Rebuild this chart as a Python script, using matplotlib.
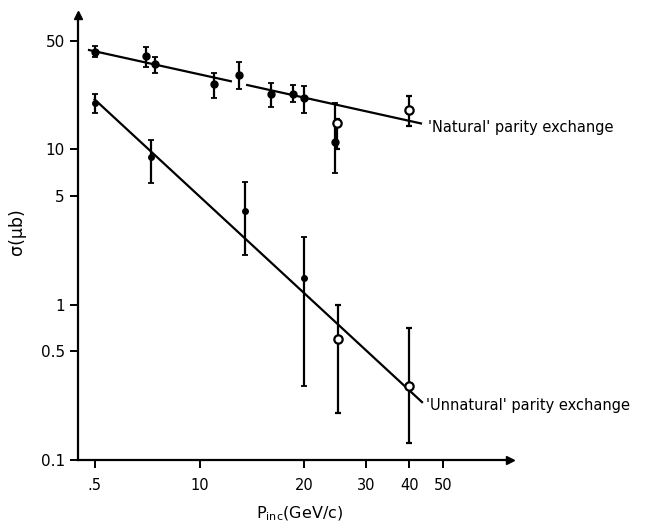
import matplotlib
matplotlib.use("Agg")
import matplotlib.pyplot as plt
from matplotlib.ticker import NullLocator, FixedLocator, FixedFormatter

plt.rcParams['font.family'] = ['DejaVu Sans']
plt.rcParams['mathtext.fontset'] = 'dejavusans'

# ---- data (sigma in micro-barn vs P_inc in GeV/c) ----
# 'Natural' parity exchange, filled points
nat_p = [5.0, 7.0, 7.45, 11.0, 13.0, 16.0, 18.6, 20.0, 24.4]
nat_sigma = [42.7, 40.0, 35.5, 26.5, 30.1, 22.7, 22.7, 21.3, 11.2]
nat_lo = [39.3, 34.1, 30.9, 21.5, 24.4, 18.8, 20.3, 17.2, 7.06]
nat_hi = [46.3, 45.5, 39.3, 31.2, 36.7, 26.7, 26.0, 25.6, 19.8]
# 'Natural' parity exchange, open points
nat_open_p = [24.8, 40.0]
nat_open_sigma = [14.7, 17.9]
nat_open_lo = [10.1, 14.1]
nat_open_hi = [15.8, 22.1]
# 'Unnatural' parity exchange, filled points
unn_p = [5.0, 7.28, 13.5, 20.0]
unn_sigma = [19.8, 8.88, 4.0, 1.49]
unn_lo = [17.1, 6.1, 2.08, 0.297]
unn_hi = [22.7, 11.5, 6.18, 2.71]
# 'Unnatural' parity exchange, open points
unn_open_p = [25.0, 40.0]
unn_open_sigma = [0.597, 0.298]
unn_open_lo = [0.201, 0.128]
unn_open_hi = [1.0, 0.711]
# fitted lines (segments, NaN = break)
nat_fit_p = [4.82, 12.3, float('nan'), 13.7, 43.2]
nat_fit_sigma = [43.7, 27.5, float('nan'), 26.0, 14.7]
unn_fit_p = [5.0, 43.5]
unn_fit_sigma = [21.0, 0.235]
# ticks
x_ticks = [5, 10, 20, 30, 40, 50]
x_tick_labels = ['.5', '10', '20', '30', '40', '50']
y_ticks = [0.1, 0.5, 1, 5, 10, 50]
y_tick_labels = ['0.1', '0.5', '1', '5', '10', '50']

W, H = 645, 525
fig = plt.figure(figsize=(W / 100, H / 100), dpi=100)
ax = fig.add_axes([78 / W, 1 - 460 / H, (510 - 78) / W, (460 - 15) / H])
ax.set_xscale('log')
ax.set_yscale('log')
ax.set_xlim(4.48, 77.8)
ax.set_ylim(0.0995, 73.5)


def errs(vals, lo, hi):
    return [[v - l for v, l in zip(vals, lo)], [h - v for v, h in zip(vals, hi)]]


lw = 1.6
ax.plot(nat_fit_p, nat_fit_sigma, color='black', lw=lw, zorder=2)
ax.plot(unn_fit_p, unn_fit_sigma, color='black', lw=lw, zorder=2)

common = dict(ecolor='black', elinewidth=1.6, capsize=2.2, capthick=1.3, zorder=3, linestyle='none')
ax.errorbar(nat_p, nat_sigma, yerr=errs(nat_sigma, nat_lo, nat_hi), fmt='o', ms=5,
            mfc='black', mec='black', **common)
ax.errorbar(unn_p, unn_sigma, yerr=errs(unn_sigma, unn_lo, unn_hi), fmt='o', ms=4,
            mfc='black', mec='black', **common)
ax.errorbar(nat_open_p, nat_open_sigma, yerr=errs(nat_open_sigma, nat_open_lo, nat_open_hi),
            fmt='o', ms=6, mfc='white', mec='black', mew=1.6, **common)
ax.errorbar(unn_open_p, unn_open_sigma, yerr=errs(unn_open_sigma, unn_open_lo, unn_open_hi),
            fmt='o', ms=6, mfc='white', mec='black', mew=1.6, **common)

ax.text(45.3, 13.9, "'Natural' parity exchange", fontsize=10.5, ha='left', va='center')
ax.text(44.6, 0.224, "'Unnatural' parity exchange", fontsize=10.5, ha='left', va='center')

for s in ('top', 'right'):
    ax.spines[s].set_visible(False)
for s in ('left', 'bottom'):
    ax.spines[s].set_linewidth(1.6)

ax.xaxis.set_major_locator(FixedLocator(x_ticks))
ax.xaxis.set_major_formatter(FixedFormatter(x_tick_labels))
ax.yaxis.set_major_locator(FixedLocator(y_ticks))
ax.yaxis.set_major_formatter(FixedFormatter(y_tick_labels))
ax.xaxis.set_minor_locator(NullLocator())
ax.yaxis.set_minor_locator(NullLocator())
ax.tick_params(axis='both', direction='out', length=6, width=1.4)
ax.tick_params(axis='x', pad=7, labelsize=10.5)
ax.tick_params(axis='y', pad=3.5, labelsize=11)

ax.plot([1], [0], marker='>', color='black', ms=6, transform=ax.transAxes, clip_on=False)
ax.plot([0], [1], marker='^', color='black', ms=6, transform=ax.transAxes, clip_on=False)

fig.text(17 / W, 1 - 232 / H, 'σ(μb)', rotation=90, ha='center', va='center', fontsize=12.5)
fig.text(300 / W, 1 - 514 / H, r'P$_{\rm inc}$(GeV/c)', ha='center', va='center', fontsize=11.5)

fig.savefig('out.png', dpi=100, facecolor='white')
